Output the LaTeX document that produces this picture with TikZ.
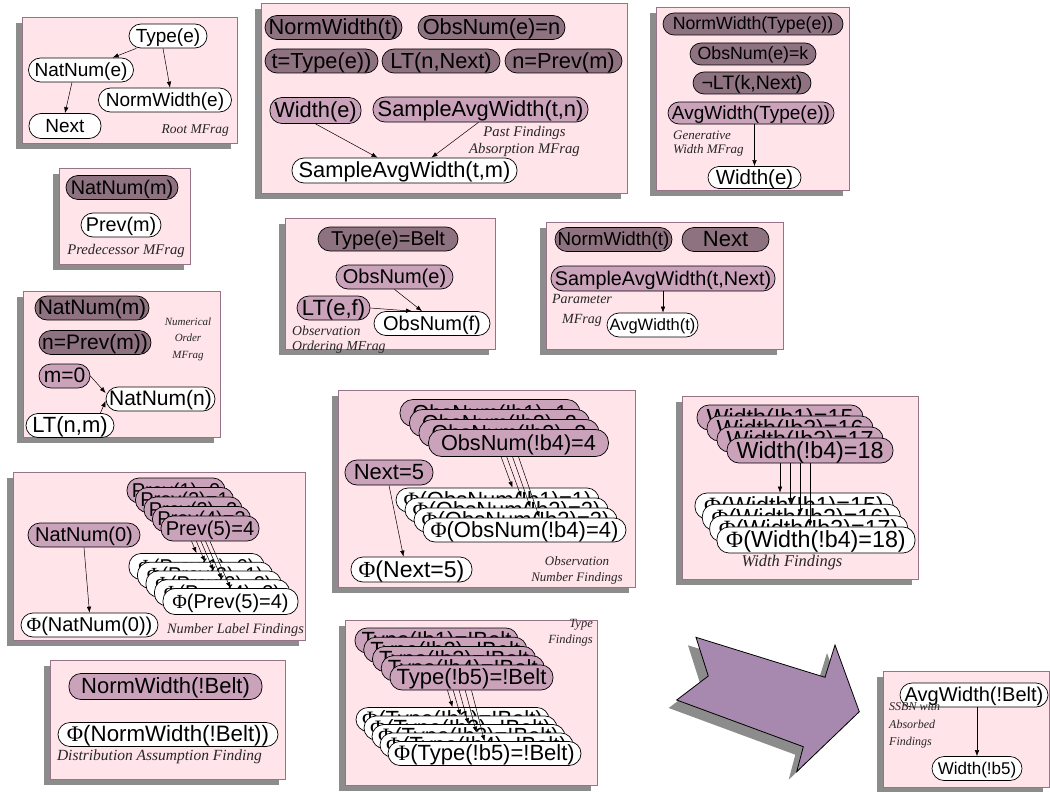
\documentclass[tikz,border=0pt]{standalone}
\usepackage{fontspec}
\setmainfont{Liberation Sans}
\newfontfamily\seriffont{Liberation Serif}
\usetikzlibrary{arrows.meta,calc}
\definecolor{dkc}{RGB}{142,114,128}
\definecolor{ltc}{RGB}{202,163,187}
\definecolor{frmfill}{RGB}{255,228,234}
\definecolor{frmdraw}{RGB}{150,115,135}
\definecolor{shd}{RGB}{140,140,140}
\definecolor{bigarr}{RGB}{167,136,175}
\pgfdeclarelayer{fg}
\pgfsetlayers{main,fg}
\newcommand{\PHI}{{\seriffont Φ}}
\newcommand{\mfrag}[4]{%
  \fill[shd] (#1-6,#2+6) rectangle (#3-6,#4+6);
  \filldraw[fill=frmfill,draw=frmdraw,line width=0.8pt] (#1,#2) rectangle (#3,#4);}
\tikzset{
  base/.style={rectangle,rounded corners=12pt,draw=black,line width=0.7pt,inner sep=0pt,minimum height=24pt,text=black},
  cx/.style={base,fill=dkc},
  ip/.style={base,fill=ltc},
  rs/.style={base,fill=white},
  fs/.code={\pgfmathsetmacro\nodetexth{0.66*#1}%
    \edef\nodetextset{\noexpand\tikzset{text height=\nodetexth pt,text depth=0pt}}\nodetextset
    \tikzset{font=\fontsize{#1pt}{#1pt}\selectfont}},
  lbl/.style 2 args={font=\seriffont\itshape\fontsize{#1pt}{#2pt}\selectfont,inner sep=0pt,text=black!85},
  arr/.style={-{Latex[length=6pt,width=4.5pt]},line width=0.5pt},
}
\begin{document}
\begin{tikzpicture}[x=1pt,y=-1pt]
\useasboundingbox (0,0) rectangle (1050,792);
% ---------- frames ----------
\mfrag{22}{17}{237}{143}
\mfrag{261}{3}{627}{193}
\mfrag{656}{7}{849}{190}
\mfrag{59}{168}{190}{264}
\mfrag{23}{291}{220}{437}
\mfrag{285}{218}{495}{349}
\mfrag{546}{222}{783}{349}
\mfrag{13}{472}{305}{640}
\mfrag{338}{390}{635}{587}
\mfrag{682}{396}{918}{579}
\mfrag{50}{660}{285}{779}
\mfrag{345}{620}{597}{785}
\mfrag{883}{671}{1049}{787}
% ---------- big arrow ----------
\fill[shd] (688,645.3) -- (817,685.3) -- (827,653) -- (851.3,719.7) -- (788.7,779.7) -- (795.3,754.7) -- (668.7,708) -- (700.3,684) -- cycle;
\filldraw[fill=bigarr,draw=black,line width=0.8pt] (696,637.3) -- (825,677.3) -- (835,645) -- (859.3,711.7) -- (796.7,771.7) -- (803.3,746.7) -- (676.7,700) -- (708.3,676) -- cycle;
% ---------- Root MFrag ----------
\node[rs,fs=19,minimum width=78pt] (r1) at (168,36) {Type(e)};
\node[rs,fs=19,minimum width=105pt] (r2) at (81,70) {NatNum(e)};
\node[rs,fs=19,minimum width=133pt] (r3) at (165,100) {NormWidth(e)};
\node[rs,fs=19,minimum width=72pt,minimum height=25pt] (r4) at (65,126) {Next};
\node[lbl={13.5}{16},anchor=east] (r5) at (229,131) {Root MFrag};
\draw[arr] (r1) -- (r2);
\draw[arr] ([xshift=-5pt]r1.south) -- ([xshift=5pt]r3.north);
\draw[arr] ([xshift=-9pt]r2.south) -- (r4.north);
% ---------- Past Findings Absorption ----------
\node[cx,fs=21.8,minimum width=137pt] (p1) at (333.5,27.5) {NormWidth(t)};
\node[cx,fs=21.8,minimum width=147pt] (p2) at (491.5,27.5) {ObsNum(e)=n};
\node[cx,fs=21.8,minimum width=113pt] (p3) at (321.5,61) {t=Type(e))};
\node[cx,fs=21.8,minimum width=118pt] (p4) at (441,61) {LT(n,Next)};
\node[cx,fs=21.8,minimum width=117pt] (p5) at (563.5,61) {n=Prev(m)};
\node[ip,fs=21.8,minimum width=91pt,minimum height=26pt] (p6) at (315.5,110.5) {Width(e)};
\node[ip,fs=21.8,minimum width=215pt,minimum height=25pt] (p7) at (480.5,109.5) {SampleAvgWidth(t,n)};
\node[rs,fs=21.8,minimum width=225pt,minimum height=25pt] (p8) at (404.5,170.5) {SampleAvgWidth(t,m)};
\node[lbl={14.7}{17},align=center] (p9) at (524.5,141) {Past Findings\\Absorption MFrag};
\draw[arr] (p6.south) -- ([xshift=-27pt]p8.north);
\draw[arr] ([xshift=-2pt]p7.south) -- ([xshift=27pt]p8.north);
% ---------- Generative Width MFrag ----------
\node[cx,fs=17.7,minimum width=180pt,minimum height=22pt,rounded corners=11pt] (g1) at (753,24) {NormWidth(Type(e))};
\node[cx,fs=17.7,minimum width=126pt,minimum height=22pt,rounded corners=11pt] (g2) at (753,54) {ObsNum(e)=k};
\node[cx,fs=19.5,minimum width=118pt,minimum height=22pt,rounded corners=11pt] (g3) at (752,83) {¬LT(k,Next)};
\node[ip,fs=19,minimum width=166pt,minimum height=22pt,rounded corners=11pt] (g4) at (751,113) {AvgWidth(Type(e))};
\node[rs,fs=20.5,minimum width=93pt,minimum height=22pt,rounded corners=11pt] (g5) at (754.5,177.5) {Width(e)};
\node[lbl={13}{13.5},align=left,anchor=west] (g6) at (673,143.5) {Generative\\Width MFrag};
\draw[arr] (g5.north |- g4.south) -- (g5.north);
% ---------- Predecessor MFrag ----------
\node[cx,fs=19.8,minimum width=112pt] (d1) at (122,187.5) {NatNum(m)};
\node[rs,fs=19.8,minimum width=80pt] (d2) at (121,225) {Prev(m)};
\node[lbl={14.7}{16}] (d3) at (126,251) {Predecessor MFrag};
% ---------- Numerical Order MFrag ----------
\node[cx,fs=21,minimum width=114pt] (n1) at (92,308) {NatNum(m)};
\node[cx,fs=21,minimum width=112pt] (n2) at (95,342.5) {n=Prev(m))};
\node[ip,fs=21,minimum width=51pt] (n3) at (64.5,376) {m=0};
\node[rs,fs=21,minimum width=109pt] (n4) at (160.5,399) {NatNum(n)};
\node[rs,fs=22,minimum width=88pt] (n5) at (70,425.5) {LT(n,m)};
\node[lbl={11}{16.5},align=center] (n6) at (188,339) {Numerical\\Order\\MFrag};
\draw[arr] (n3.east) -- ([yshift=6pt]n4.west);
\draw[arr] ([xshift=-14pt]n5.north east) -- ([yshift=-2pt]n4.west);
% ---------- Observation Ordering MFrag ----------
\node[cx,fs=20,minimum width=140pt] (o1) at (388,239) {Type(e)=Belt};
\node[ip,fs=20,minimum width=117pt] (o2) at (394.5,277) {ObsNum(e)};
\node[ip,fs=22,minimum width=73pt] (o3) at (333.5,308) {LT(e,f)};
\node[rs,fs=20,minimum width=116pt] (o4) at (432,323.5) {ObsNum(f)};
\node[lbl={13.8}{15},align=left,anchor=west] (o5) at (292,339.5) {Observation\\Ordering MFrag};
\draw[arr] (o2.south) -- ([xshift=-10pt]o4.north);
\draw[arr] (o3.east) -- ([xshift=-20pt]o4.north);
% ---------- Parameter MFrag ----------
\node[cx,fs=18.8,minimum width=117pt] (q1) at (613.5,239.5) {NormWidth(t)};
\node[cx,fs=22,minimum width=87pt] (q2) at (725.5,239.5) {Next};
\node[ip,fs=19.8,minimum width=224pt,minimum height=25pt] (q3) at (663,278.5) {SampleAvgWidth(t,Next)};
\node[rs,fs=16.5,minimum width=91pt] (q4) at (652.5,325) {AvgWidth(t)};
\node[lbl={14}{20},align=center] (q5) at (582,310) {Parameter\\MFrag};
\draw[arr] (q3.south) -- (q3.south |- q4.north);
% ---------- Number Label Findings ----------
\node[ip,fs=20,minimum width=112pt] (na) at (84,535) {NatNum(0)};
\node[rs,fs=20,minimum width=137pt] (pna) at (89.5,625) {\PHI(NatNum(0))};
\foreach \i/\t in {1/0,2/1,3/2,4/3,5/4}
  \node[rs,fs=20,minimum width=135pt,minimum height=26pt] (ppv\i) at ({196.5+8.5*(\i-1)},{566.5+8.75*(\i-1)}) {\PHI(Prev(\i)=\t)};
\begin{pgfonlayer}{fg}
\foreach \i/\t in {1/0,2/1,3/2,4/3,5/4}
  \node[ip,fs=20,minimum width=98pt,minimum height=25pt] (pv\i) at ({176+8.5*(\i-1)},{490.5+9.5*(\i-1)}) {Prev(\i)=\t};
\end{pgfonlayer}
\node[lbl={14.3}{16}] (nlf) at (235.5,630) {Number Label Findings};
\draw[arr] (na.south) -- (pna.north);
\foreach \i in {1,...,5} \draw[arr] (pv\i.south) -- (ppv\i.north);
% ---------- Observation Number Findings ----------
\node[ip,fs=22,minimum width=88pt,minimum height=25pt] (nx) at (389,472.5) {Next=5};
\node[rs,fs=23,minimum width=121pt,minimum height=25pt] (pnx) at (411.5,569.5) {\PHI(Next=5)};
\foreach \i in {1,...,4}
  \node[rs,fs=22,minimum width=203pt] (pon\i) at ({497.5+9*(\i-1)},{500+10*(\i-1)}) {\PHI(ObsNum(!b\i)=\i)};
\begin{pgfonlayer}{fg}
\foreach \i in {1,...,4}
  \node[ip,fs=21.7,minimum width=180pt,minimum height=27pt,rounded corners=13pt] (on\i) at ({490+9.5*(\i-1)},{413+10*(\i-1)}) {ObsNum(!b\i)=\i};
\end{pgfonlayer}
\node[lbl={13}{16},align=center] (onf) at (577,570) {Observation\\Number Findings};
\draw[arr] (nx.south) -- ([xshift=-8pt]pnx.north);
\foreach \i in {1,...,4} \draw[arr] (on\i.south) -- ([xshift=15pt]pon\i.north);
% ---------- Width Findings ----------
\foreach \i/\t in {1/15,2/16,3/17,4/18}
  \node[rs,fs=23.3,minimum width=198pt,minimum height=26pt] (pw\i) at ({794+7.33*(\i-1)},{506+11.33*(\i-1)}) {\PHI(Width(!b\i)=\t)};
\begin{pgfonlayer}{fg}
\foreach \i/\t in {1/15,2/16,3/17,4/18}
  \node[ip,fs=23.3,minimum width=166pt,minimum height=25pt] (w\i) at ({780+10*(\i-1)},{417.5+11*(\i-1)}) {Width(!b\i)=\t};
\end{pgfonlayer}
\node[lbl={16.4}{18}] (wf) at (792,563) {Width Findings};
\foreach \i in {1,...,4} \draw[arr] (w\i.south) -- (w\i.south |- pw\i.north);
% ---------- Distribution Assumption Finding ----------
\node[ip,fs=22,minimum width=193pt,minimum height=26pt] (da) at (165.5,686.5) {NormWidth(!Belt)};
\node[rs,fs=22.3,minimum width=220pt] (pda) at (168,734.5) {\PHI(NormWidth(!Belt))};
\node[lbl={15.5}{17}] (daf) at (159.5,757) {Distribution Assumption Finding};
% ---------- Type Findings ----------
\foreach \i in {1,...,5}
  \node[rs,fs=22,minimum width=193pt] (pty\i) at ({452.5+8*(\i-1)},{719.5+8.5*(\i-1)}) {\PHI(Type(!b\i)=!Belt)};
\begin{pgfonlayer}{fg}
\foreach \i in {1,...,5}
  \node[ip,fs=22,minimum width=163pt,minimum height=25pt] (ty\i) at ({436.5+8.75*(\i-1)},{640.5+9.25*(\i-1)}) {Type(!b\i)=!Belt};
\end{pgfonlayer}
\node[lbl={12.5}{16},align=right,anchor=east] (tyf) at (593,633) {Type\\Findings};
\foreach \i in {1,...,5} \draw[arr] (ty\i.south) -- (pty\i.north);
% ---------- SSBN ----------
\node[rs,fs=20,minimum width=148pt] (ab) at (974,695) {AvgWidth(!Belt)};
\node[rs,fs=17,minimum width=90pt] (wb) at (977,768.5) {Width(!b5)};
\node[lbl={12}{17.5},align=left,anchor=west] (sf) at (889,725.5) {SSBN with\\Absorbed\\Findings};
\draw[arr] (wb.north |- ab.south) -- (wb.north);
\end{tikzpicture}
\end{document}
